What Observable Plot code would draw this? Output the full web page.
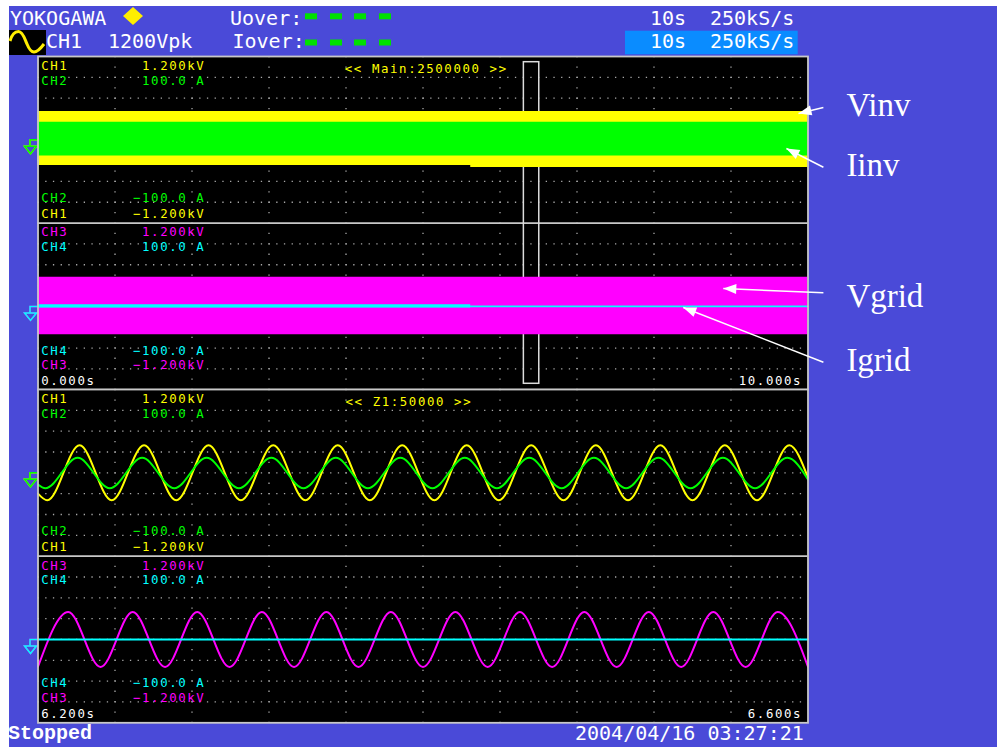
<!DOCTYPE html>
<html>
<head>
<meta charset="utf-8">
<script src="https://cdn.jsdelivr.net/npm/d3@7"></script>
<script src="https://cdn.jsdelivr.net/npm/@observablehq/plot@0.6"></script>
<style>
  html, body { margin: 0; padding: 0; background: #fff; }
  #scope { position: relative; width: 997px; height: 755px; overflow: hidden; }
  #scope > svg, #scope > div { position: absolute; left: 0; }
</style>
</head>
<body>
<div id="scope">
  <!-- instrument bezel: status bar and footer -->
  <svg width="997" height="755" style="top:0">
    <rect x="9" y="6" width="988" height="741" fill="#4a4ad8"/>
    <g font-family="DejaVu Sans Mono" font-size="20" fill="#ffffff">
      <text x="10" y="25">YOKOGAWA</text>
      <text x="230" y="25">Uover:</text>
      <text x="46" y="48">CH1</text>
      <text x="108" y="48">1200Vpk</text>
      <text x="232.5" y="48">Iover:</text>
      <text x="650" y="25">10s</text>
      <text x="710" y="25">250kS/s</text>
    </g>
    <polygon points="133,7 143,16 133,25 123,16" fill="#ffee00"/>
    <g fill="#00e000">
      <rect x="305" y="13.3" width="12" height="6"/>
      <rect x="330" y="13.3" width="12" height="6"/>
      <rect x="354" y="13.3" width="12" height="6"/>
      <rect x="379" y="13.3" width="12" height="6"/>
      <rect x="305" y="39.5" width="12" height="6"/>
      <rect x="330" y="39.5" width="12" height="6"/>
      <rect x="354" y="39.5" width="12" height="6"/>
      <rect x="379" y="39.5" width="12" height="6"/>
    </g>
    <rect x="9" y="30" width="37" height="25" fill="#000"/>
    <path d="M10,41 C12,34 15,31.5 18.5,31.5 C23,31.5 25,40 27,44 C29,49 31,52 34,52 C38,52 41,48 44,44"
          fill="none" stroke="#ffee00" stroke-width="3"/>
    <rect x="625" y="30.7" width="172.7" height="23.6" fill="#0a8cff"/>
    <g font-family="DejaVu Sans Mono" font-size="20" fill="#ffffff">
      <text x="650" y="48">10s</text>
      <text x="710" y="48">250kS/s</text>
      <text x="575" y="740">2004/04/16 03:27:21</text>
    </g>
    <text x="8" y="739" font-family="Liberation Mono" font-weight="bold" font-size="20" fill="#ffffff">Stopped</text>
  </svg>
  <div id="main" style="top:56px"></div>
  <div id="zoom" style="top:389.2px"></div>
</div>
<script>
const MONO = "DejaVu Sans Mono";
const SERIF = "Liberation Serif";
const YELLOW = "#ffff00", GREEN = "#00ff00", MAGENTA = "#ff00ff", CYAN = "#00ffff";
const GRID = "#a8a8a8", BORDER = "#c8c8c8";
const LABEL_SIZE = 12.4, LABEL_TRACKING = 1.6;   // compact screen font, widened by tracking

// Channel settings
const channelNames = ["CH1", "CH2", "CH3", "CH4"];
const channelColors = [YELLOW, GREEN, MAGENTA, CYAN];
const fullScaleText = ["1.200kV", "100.0 A", "1.200kV", "100.0 A"];
const negScaleText = ["−1.200kV", "−100.0 A", "−1.200kV", "−100.0 A"];
const unitsPerDiv = [300, 25, 300, 25];      // 1.2 kV and 100 A over four divisions
const panelCenter = [4, 4, -4, -4];          // CH1/CH2 share the upper panel, CH3/CH4 the lower

// Time bases
const mainDomain = [0, 10];
const zoomDomain = [6.2, 6.6];
const mainGridTimes = [1, 2, 3, 4, 5, 6, 7, 8, 9];
const zoomGridTimes = [6.24, 6.28, 6.32, 6.36, 6.40, 6.44, 6.48, 6.52, 6.56];
const gridRows = [-7, -6, -5, -3, -2, -1, 1, 2, 3, 5, 6, 7, -4, 4];
const mainTimeLabels = ["0.000s", "10.000s"];
const zoomTimeLabels = ["6.200s", "6.600s"];
const mainTitle = "<< Main:2500000 >>";
const zoomTitle = "<< Z1:50000 >>";
const zoomWindow = [6.31, 6.51];

// Main record (0–10 s): envelopes [t, min, max]
const vinvEnvelope = [[0, -372, 408], [5.62, -372, 408], [5.62, -398, 408], [10, -398, 408]];   // V
const iinvEnvelope = [[0, -19.5, 21], [10, -19.5, 21]];                                        // A
const vgridEnvelope = [[0, -408, 420], [10, -408, 420]];                                       // V
const igridEnvelope = [[0, -2, 2], [5.62, -2, 2]];                                             // A
const igridMain = [[0, 0], [10, 0]];                                                           // A

// Zoomed record (6.2–6.6 s): turning points [t, value]
const vinvZoom = [
  [6.2000, -300],
  [6.2048, -396], [6.2216, 396], [6.2383, -396], [6.2551, 396],
  [6.2718, -396], [6.2886, 396], [6.3054, -396], [6.3222, 396],
  [6.3389, -396], [6.3557, 396], [6.3724, -396], [6.3892, 396],
  [6.4059, -396], [6.4227, 396], [6.4394, -396], [6.4562, 396],
  [6.4730, -396], [6.4898, 396], [6.5065, -396], [6.5233, 396],
  [6.5400, -396], [6.5568, 396], [6.5735, -396], [6.5903, 396],
  [6.6000, -70]
];
const iinvZoom = [
  [6.2000, -14],
  [6.2038, -18.5], [6.2206, 18], [6.2373, -18.5], [6.2541, 18],
  [6.2708, -18.5], [6.2876, 18], [6.3044, -18.5], [6.3212, 18],
  [6.3379, -18.5], [6.3547, 18], [6.3714, -18.5], [6.3882, 18],
  [6.4049, -18.5], [6.4217, 18], [6.4384, -18.5], [6.4552, 18],
  [6.4720, -18.5], [6.4888, 18], [6.5055, -18.5], [6.5223, 18],
  [6.5390, -18.5], [6.5558, 18], [6.5725, -18.5], [6.5893, 18],
  [6.6000, -8]
];
const vgridZoom = [
  [6.2000, -392],
  [6.2157, 396], [6.2325, -396], [6.2492, 396], [6.2660, -396],
  [6.2827, 396], [6.2995, -396], [6.3163, 396], [6.3330, -396],
  [6.3498, 396], [6.3665, -396], [6.3833, 396], [6.4000, -396],
  [6.4168, 396], [6.4336, -396], [6.4503, 396], [6.4671, -396],
  [6.4838, 396], [6.5006, -396], [6.5173, 396], [6.5341, -396],
  [6.5508, 396], [6.5676, -396], [6.5843, 396],
  [6.6000, -392]
];
const igridZoom = [[6.2, 0], [6.6, 0]];

// Trace annotations: arrow tip on a trace, line start and label beside the screen
const annotations = [
  {label: "Vinv",  ch: 0, t: 9.877, v: 379,  labelT: 10.2, labelV: 465, textV: 336},
  {label: "Iinv",  ch: 1, t: 9.72,  v: -10.5, labelT: 10.2, labelV: -33, textV: -44},
  {label: "Vgrid", ch: 2, t: 8.90,  v: 258,  labelT: 10.2, labelV: 196, textV: -12},
  {label: "Igrid", ch: 3, t: 8.38,  v: -1.3, labelT: 10.2, labelV: -67, textV: -78}
];

// ---- layout of the screen ----
const WIDTH = 997, LEFT = 37.5, RIGHT = 807.5;
const HALF_H = 333.2;
const toDiv = (ch, v) => panelCenter[ch] + v / unitsPerDiv[ch];

// ground-level marker drawn to the left of the screen
const groundSymbol = {
  draw(ctx) {
    ctx.moveTo(0, 0); ctx.lineTo(-8, 0); ctx.lineTo(-8, 6.5);
    ctx.moveTo(-13.5, 6.5); ctx.lineTo(-1.5, 6.5); ctx.lineTo(-7.5, 14); ctx.closePath();
  }
};
// filled arrowhead whose tip sits on the point, pointing along angle a
const arrowHead = a => ({
  draw(ctx) {
    const L = 13, W = 5, c = Math.cos(a), s = Math.sin(a);
    ctx.moveTo(0, 0);
    ctx.lineTo(-L * c + W * s, -L * s - W * c);
    ctx.lineTo(-L * c - W * s, -L * s + W * c);
    ctx.closePath();
  }
});

const monoText = (data, o) => Plot.text(data, {fontFamily: MONO, fontSize: LABEL_SIZE, lineAnchor: "bottom", ...o});

function scaleRows(t0, edge, rows) {
  return rows.flatMap(([ch, sign, dy]) => {
    const item = [{t: t0, y: edge}];
    const fill = channelColors[ch];
    return [
      monoText(item, {x: "t", y: "y", text: () => channelNames[ch], dx: 3.2, dy, textAnchor: "start", fill}),
      monoText(item, {x: "t", y: "y", text: () => (sign > 0 ? fullScaleText : negScaleText)[ch],
                      dx: 165.8 + LABEL_TRACKING, dy, textAnchor: "end", fill})
    ];
  });
}

function groundMarkers(t0) {
  return [0, 1, 2, 3].map(ch =>
    Plot.dot([{t: t0, y: panelCenter[ch]}], {x: "t", y: "y", symbol: groundSymbol,
      fill: "none", stroke: channelColors[ch], strokeWidth: 1.5}));
}

function screenBase(gridTimes) {
  return [
    Plot.frame({fill: "black"}),
    Plot.ruleY(gridRows, {stroke: GRID, strokeWidth: 1.3, strokeDasharray: "1.3 6.4"}),
    Plot.ruleX(gridTimes, {stroke: GRID, strokeWidth: 1.3, strokeDasharray: "1.3 9.1"}),
    Plot.ruleY([0], {stroke: BORDER, strokeWidth: 1.8})
  ];
}

function band(data, ch) {
  return Plot.areaY(data, {x: d => d[0], y1: d => toDiv(ch, d[1]), y2: d => toDiv(ch, d[2]),
    fill: channelColors[ch], curve: "linear"});
}
function trace(data, ch, curve = "monotone-x") {
  return Plot.line(data, {x: d => d[0], y: d => toDiv(ch, d[1]), stroke: channelColors[ch],
    strokeWidth: 2, curve});
}

// pixel mapping of the main record, used to orient the arrowheads
const xs = Plot.scale({x: {domain: mainDomain, range: [LEFT, RIGHT]}});
const ys = Plot.scale({y: {domain: [-8, 8], range: [HALF_H, 0]}});
const headAngle = d => Math.atan2(
  ys.apply(toDiv(d.ch, d.v)) - ys.apply(toDiv(d.ch, d.labelV)),
  xs.apply(d.t) - xs.apply(d.labelT));

const common = {
  width: WIDTH, marginLeft: LEFT, marginRight: WIDTH - RIGHT, marginTop: 0, marginBottom: 0,
  y: {domain: [-8, 8], axis: null},
  style: {background: "transparent", overflow: "visible"}
};

const mainPlot = Plot.plot({
  ...common,
  height: HALF_H,
  x: {domain: mainDomain, axis: null},
  marks: [
    ...screenBase(mainGridTimes),
    Plot.rect([zoomWindow], {x1: d => d[0], x2: d => d[1], insetTop: 5.7, insetBottom: 5.9,
      fill: "none", stroke: "#dddddd", strokeWidth: 1.5}),
    band(vinvEnvelope, 0),
    band(iinvEnvelope, 1),
    band(vgridEnvelope, 2),
    band(igridEnvelope, 3),
    Plot.line(igridMain, {x: d => d[0], y: d => toDiv(3, d[1]), stroke: CYAN, strokeWidth: 1.6}),
    ...scaleRows(mainDomain[0], 8, [[0, 1, 14], [1, 1, 28.6]]),
    ...scaleRows(mainDomain[0], 0, [[1, -1, -21], [0, -1, -5.4]]),
    ...scaleRows(mainDomain[0], 0, [[2, 1, 13.4], [3, 1, 28]]),
    ...scaleRows(mainDomain[0], -8, [[3, -1, -34.8], [2, -1, -20.3]]),
    monoText([mainTitle], {x: () => mainDomain[0], y: () => 8, text: d => d, dx: 306.8, dy: 16.3,
      textAnchor: "start", fill: YELLOW}),
    monoText([mainTimeLabels[0]], {x: () => mainDomain[0], y: () => -8, text: d => d, dx: 3.2, dy: -5,
      textAnchor: "start", fill: "white"}),
    monoText([mainTimeLabels[1]], {x: () => mainDomain[1], y: () => -8, text: d => d,
      dx: -7.5 + LABEL_TRACKING, dy: -5, textAnchor: "end", fill: "white"}),
    ...groundMarkers(mainDomain[0]),
    Plot.frame({stroke: BORDER, strokeWidth: 1.8}),
    Plot.link(annotations, {x1: "labelT", y1: d => toDiv(d.ch, d.labelV), x2: "t", y2: d => toDiv(d.ch, d.v),
      stroke: "white", strokeWidth: 1.5}),
    ...annotations.map(d => Plot.dot([d], {x: "t", y: dd => toDiv(dd.ch, dd.v), symbol: arrowHead(headAngle(d)),
      fill: "white", stroke: "none"})),
    Plot.text(annotations, {x: "labelT", y: d => toDiv(d.ch, d.textV), text: "label", dx: 23,
      textAnchor: "start", lineAnchor: "bottom", fontFamily: SERIF, fontSize: 33, fill: "white"})
  ]
});

const zoomPlot = Plot.plot({
  ...common,
  height: 333.3,
  x: {domain: zoomDomain, axis: null},
  marks: [
    ...screenBase(zoomGridTimes),
    trace(vinvZoom, 0),
    trace(iinvZoom, 1),
    trace(vgridZoom, 2),
    trace(igridZoom, 3, "linear"),
    ...scaleRows(zoomDomain[0], 8, [[0, 1, 14], [1, 1, 28.6]]),
    ...scaleRows(zoomDomain[0], 0, [[1, -1, -21], [0, -1, -5.4]]),
    ...scaleRows(zoomDomain[0], 0, [[2, 1, 13.4], [3, 1, 28]]),
    ...scaleRows(zoomDomain[0], -8, [[3, -1, -36], [2, -1, -20.6]]),
    monoText([zoomTitle], {x: () => zoomDomain[0], y: () => 8, text: d => d, dx: 307.5, dy: 16.3,
      textAnchor: "start", fill: YELLOW}),
    monoText([zoomTimeLabels[0]], {x: () => zoomDomain[0], y: () => -8, text: d => d, dx: 3.2, dy: -5.2,
      textAnchor: "start", fill: "white"}),
    monoText([zoomTimeLabels[1]], {x: () => zoomDomain[1], y: () => -8, text: d => d,
      dx: -7.5 + LABEL_TRACKING, dy: -5.2, textAnchor: "end", fill: "white"}),
    ...groundMarkers(zoomDomain[0]),
    Plot.frame({stroke: BORDER, strokeWidth: 1.8})
  ]
});

// widen the compact screen font so its columns keep the instrument's character pitch
for (const svg of [mainPlot, zoomPlot]) {
  d3.select(svg).selectAll("g")
    .filter(function () { return this.getAttribute("font-family") === MONO; })
    .attr("letter-spacing", LABEL_TRACKING);
}

document.getElementById("main").append(mainPlot);
document.getElementById("zoom").append(zoomPlot);
</script>
</body>
</html>
